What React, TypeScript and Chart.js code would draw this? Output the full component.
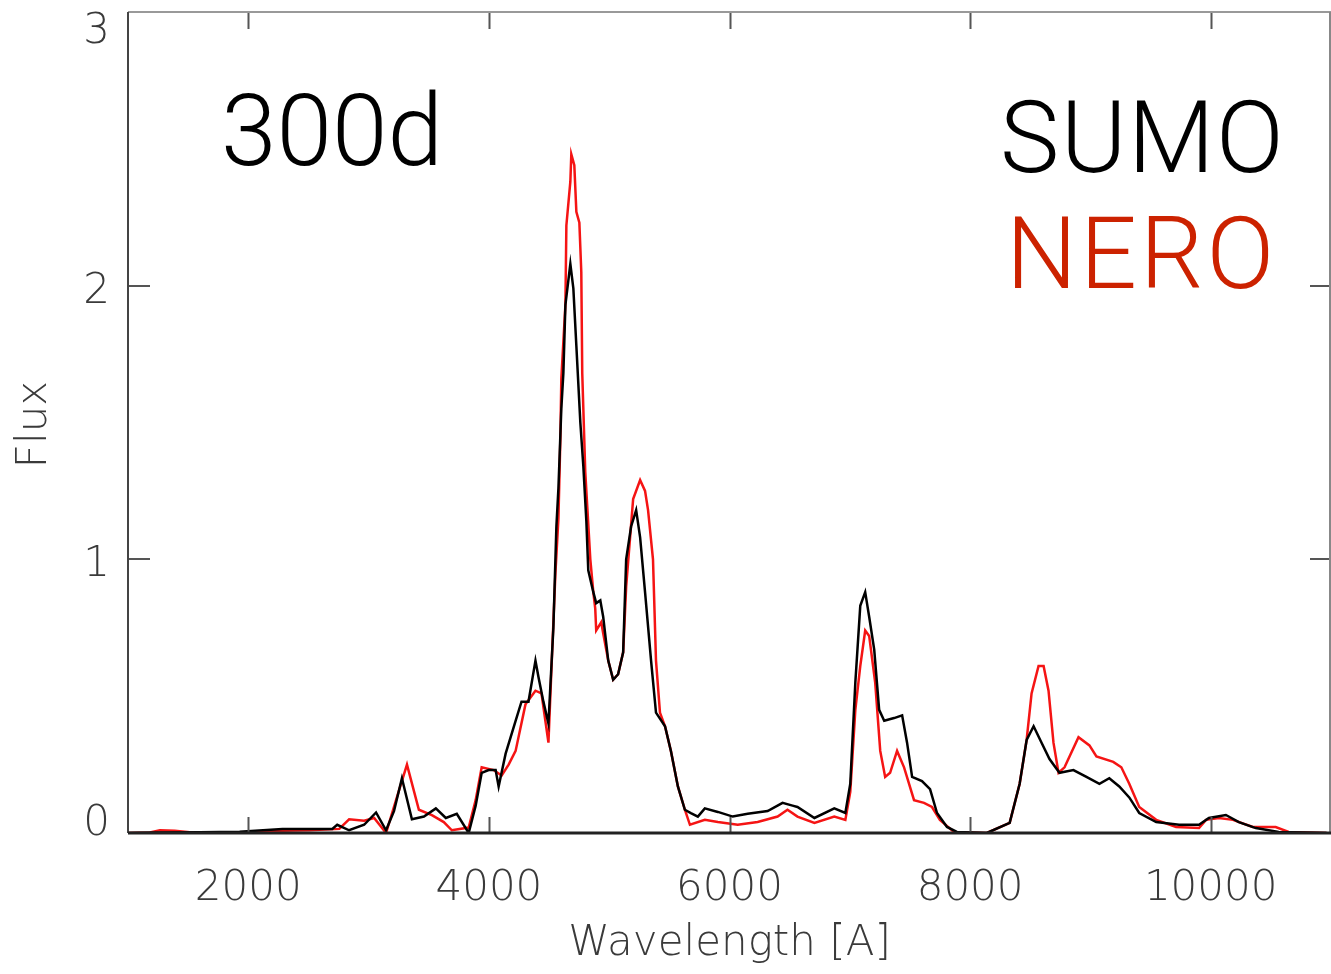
import React, { useEffect, useRef } from "react";
import { Chart, registerables } from "chart.js";

Chart.register(...registerables);

// SUMO (black) spectrum: wavelength [A] and flux
const sumoWavelength = [
  1000, 1265, 1596, 1928, 2284, 2507, 2698, 2739, 2838, 2963, 3062, 3145, 3211, 3277, 3360, 3460,
  3559, 3642, 3733, 3832, 3890, 3940, 3998, 4056, 4081, 4139, 4222, 4271, 4329, 4387, 4412, 4453,
  4495, 4536, 4561, 4578, 4602, 4619, 4636, 4677, 4702, 4727, 4760, 4785, 4810, 4826, 4868, 4892,
  4926, 4950, 4992, 5033, 5074, 5116, 5141, 5182, 5224, 5257, 5298, 5348, 5389, 5464, 5513, 5571,
  5629, 5679, 5737, 5795, 5903, 6027, 6151, 6317, 6441, 6524, 6565, 6706, 6871, 6963, 7004, 7046,
  7087, 7128, 7161, 7203, 7244, 7286, 7368, 7435, 7476, 7518, 7600, 7667, 7725, 7808, 7890, 8139,
  8329, 8412, 8470, 8528, 8594, 8660, 8743, 8859, 8967, 9075, 9157, 9240, 9323, 9406, 9547, 9737,
  9903, 9985, 10126, 10234, 10375, 10565, 10963,
];
const sumoFlux = [
  0.0, 0.002, 0.003, 0.005, 0.015, 0.015, 0.015, 0.03, 0.01, 0.03, 0.075, 0.01, 0.08, 0.2, 0.05, 0.06,
  0.09, 0.055, 0.07, 0.0, 0.1, 0.22, 0.23, 0.23, 0.17, 0.29, 0.41, 0.48, 0.48, 0.63, 0.57, 0.48,
  0.4, 0.75, 1.12, 1.26, 1.55, 1.68, 1.93, 2.08, 1.99, 1.78, 1.5, 1.34, 1.14, 0.96, 0.88, 0.84,
  0.85, 0.79, 0.63, 0.56, 0.58, 0.66, 1.0, 1.12, 1.18, 1.08, 0.88, 0.63, 0.44, 0.39, 0.3, 0.17,
  0.085, 0.073, 0.06, 0.09, 0.077, 0.06, 0.07, 0.08, 0.11, 0.1, 0.095, 0.055, 0.09, 0.073, 0.18, 0.55,
  0.83, 0.88, 0.79, 0.67, 0.45, 0.41, 0.42, 0.43, 0.33, 0.205, 0.19, 0.16, 0.073, 0.022, 0.004, 0.0,
  0.037, 0.18, 0.34, 0.39, 0.33, 0.27, 0.22, 0.23, 0.205, 0.18, 0.2, 0.17, 0.13, 0.073, 0.04, 0.03,
  0.03, 0.055, 0.066, 0.04, 0.018, 0.004, 0.0,
];

// NERO (red) spectrum: wavelength [A] and flux
const neroWavelength = [
  1000, 1182, 1265, 1389, 1513, 1762, 2010, 2284, 2507, 2756, 2838, 2963, 3046, 3145, 3228, 3319,
  3418, 3526, 3625, 3692, 3832, 3890, 3940, 4039, 4106, 4164, 4222, 4304, 4387, 4437, 4495, 4520,
  4553, 4578, 4594, 4602, 4636, 4644, 4677, 4685, 4710, 4727, 4752, 4768, 4776, 4801, 4818, 4843,
  4868, 4884, 4892, 4934, 4950, 4992, 5033, 5074, 5116, 5141, 5199, 5257, 5298, 5323, 5364, 5389,
  5422, 5464, 5513, 5571, 5629, 5671, 5795, 5903, 6068, 6234, 6400, 6482, 6565, 6706, 6871, 6963,
  7004, 7046, 7087, 7128, 7161, 7211, 7253, 7294, 7335, 7393, 7451, 7534, 7617, 7683, 7749, 7865,
  8139, 8329, 8412, 8470, 8511, 8569, 8611, 8652, 8693, 8735, 8785, 8901, 8992, 9050, 9190, 9257,
  9323, 9406, 9547, 9712, 9903, 9961, 10069, 10185, 10350, 10540, 10648, 10963,
];
const neroFlux = [
  0.0, 0.002, 0.01, 0.008, 0.003, 0.0, 0.002, 0.008, 0.01, 0.015, 0.05, 0.045, 0.055, 0.0, 0.12, 0.25,
  0.085, 0.065, 0.04, 0.01, 0.02, 0.12, 0.24, 0.23, 0.21, 0.25, 0.3, 0.47, 0.52, 0.51, 0.33, 0.6,
  0.95, 1.15, 1.44, 1.66, 1.93, 2.22, 2.38, 2.48, 2.44, 2.27, 2.23, 2.05, 1.68, 1.32, 1.19, 1.0,
  0.88, 0.82, 0.74, 0.77, 0.73, 0.63, 0.56, 0.58, 0.66, 0.9, 1.22, 1.29, 1.25, 1.18, 1.0, 0.63,
  0.44, 0.39, 0.3, 0.17, 0.085, 0.03, 0.048, 0.04, 0.03, 0.04, 0.06, 0.085, 0.06, 0.037, 0.06, 0.048,
  0.15, 0.45, 0.61, 0.74, 0.72, 0.55, 0.3, 0.205, 0.22, 0.3, 0.24, 0.12, 0.11, 0.095, 0.048, 0.004,
  0.0, 0.037, 0.18, 0.34, 0.51, 0.61, 0.61, 0.52, 0.33, 0.22, 0.24, 0.35, 0.32, 0.28, 0.26, 0.24,
  0.18, 0.095, 0.048, 0.022, 0.018, 0.048, 0.055, 0.048, 0.022, 0.022, 0.004, 0.0,
];

const xTicks = [2000, 4000, 6000, 8000, 10000];
const yTicks = [0, 1, 2, 3];
const xTitle = "Wavelength [A]";
const yTitle = "Flux";
const epochLabel = "300d";
const seriesNames = ["SUMO", "NERO"];

const toPoints = (xs: number[], ys: number[]) => xs.map((x, i) => ({ x, y: ys[i] }));

const framePlugin = {
  id: "frame",
  afterDatasetsDraw(chart: any) {
    const { ctx, chartArea: a, scales } = chart;
    const xs = scales.x;
    const ys = scales.y;
    ctx.save();
    ctx.lineCap = "butt";

    // inward tick marks
    ctx.strokeStyle = "#555";
    ctx.lineWidth = 2;
    xTicks.forEach((v) => {
      const px = Math.round(xs.getPixelForValue(v)) + 0.5;
      ctx.beginPath();
      ctx.moveTo(px, a.bottom);
      ctx.lineTo(px, a.bottom - 16);
      ctx.moveTo(px, a.top);
      ctx.lineTo(px, a.top + 17);
      ctx.stroke();
    });
    yTicks.forEach((v) => {
      const py = Math.round(ys.getPixelForValue(v));
      ctx.beginPath();
      ctx.moveTo(a.left, py);
      ctx.lineTo(a.left + 22, py);
      ctx.moveTo(a.right, py);
      ctx.lineTo(a.right - 21, py);
      ctx.stroke();
    });

    // frame
    ctx.lineWidth = 2;
    ctx.strokeStyle = "#999";
    ctx.beginPath();
    ctx.moveTo(a.left, a.top);
    ctx.lineTo(a.right, a.top);
    ctx.stroke();
    ctx.strokeStyle = "#888";
    ctx.beginPath();
    ctx.moveTo(a.right - 1, a.top);
    ctx.lineTo(a.right - 1, a.bottom);
    ctx.stroke();
    ctx.strokeStyle = "#444";
    ctx.beginPath();
    ctx.moveTo(a.left, a.top);
    ctx.lineTo(a.left, a.bottom);
    ctx.stroke();
    ctx.strokeStyle = "#222";
    ctx.lineWidth = 3;
    ctx.beginPath();
    ctx.moveTo(a.left, a.bottom);
    ctx.lineTo(a.right, a.bottom);
    ctx.stroke();

    // tick labels
    ctx.fillStyle = "#3a3a3a";
    ctx.font = "200 42px 'DejaVu Sans'";
    ctx.textBaseline = "alphabetic";
    ctx.textAlign = "center";
    xTicks.forEach((v) => {
      ctx.fillText(String(v), xs.getPixelForValue(v), 900);
    });
    ctx.textAlign = "right";
    yTicks.forEach((v) => {
      const py = ys.getPixelForValue(v);
      const cy = Math.min(Math.max(py + 2, a.top + 16), a.bottom - 13);
      ctx.fillText(String(v), 110, cy + 15);
    });

    // axis titles
    ctx.textAlign = "center";
    ctx.fillText(xTitle, (a.left + a.right) / 2, 955);
    ctx.save();
    ctx.translate(46, (a.top + a.bottom) / 2 + 2);
    ctx.rotate(-Math.PI / 2);
    ctx.textBaseline = "alphabetic";
    ctx.fillText(yTitle, 0, 0);
    ctx.restore();

    // annotations
    ctx.textAlign = "left";
    ctx.font = "300 100px Roboto";
    ctx.fillStyle = "#000";
    ctx.fillText(epochLabel, 221, 165);
    (ctx as any).letterSpacing = "1.5px";
    ctx.fillText(seriesNames[0], 1000, 172);
    (ctx as any).letterSpacing = "3px";
    ctx.fillStyle = "#CC2200";
    ctx.fillText(seriesNames[1], 1006, 288);
    (ctx as any).letterSpacing = "0px";
    ctx.restore();
  },
};

export default function App() {
  const ref = useRef<HTMLCanvasElement | null>(null);
  useEffect(() => {
    document.body.style.margin = "0";
    document.body.style.overflow = "hidden";
    const canvas = ref.current!;
    const chart = new Chart(canvas, {
      type: "line",
      data: {
        datasets: [
          {
            label: seriesNames[0],
            data: toPoints(sumoWavelength, sumoFlux),
            borderColor: "#000",
            borderWidth: 2.5,
            pointRadius: 0,
            tension: 0,
            fill: false,
          },
          {
            label: seriesNames[1],
            data: toPoints(neroWavelength, neroFlux),
            borderColor: "rgb(245,20,20)",
            borderWidth: 2.5,
            pointRadius: 0,
            tension: 0,
            fill: false,
          },
        ],
      },
      options: {
        animation: false,
        responsive: false,
        devicePixelRatio: 1,
        parsing: true,
        layout: { padding: { left: 128, top: 12, right: 0, bottom: 141 } },
        plugins: { legend: { display: false }, tooltip: { enabled: false }, title: { display: false } },
        scales: {
          x: { type: "linear", min: 1000, max: 11000, display: false },
          y: { type: "linear", min: 0, max: 3, display: false },
        },
      },
      plugins: [framePlugin],
    });
    return () => chart.destroy();
  }, []);
  return (
    <div style={{ width: 1331, height: 974, background: "#fff" }}>
      <canvas ref={ref} width={1331} height={974} style={{ width: 1331, height: 974, display: "block" }} />
    </div>
  );
}
